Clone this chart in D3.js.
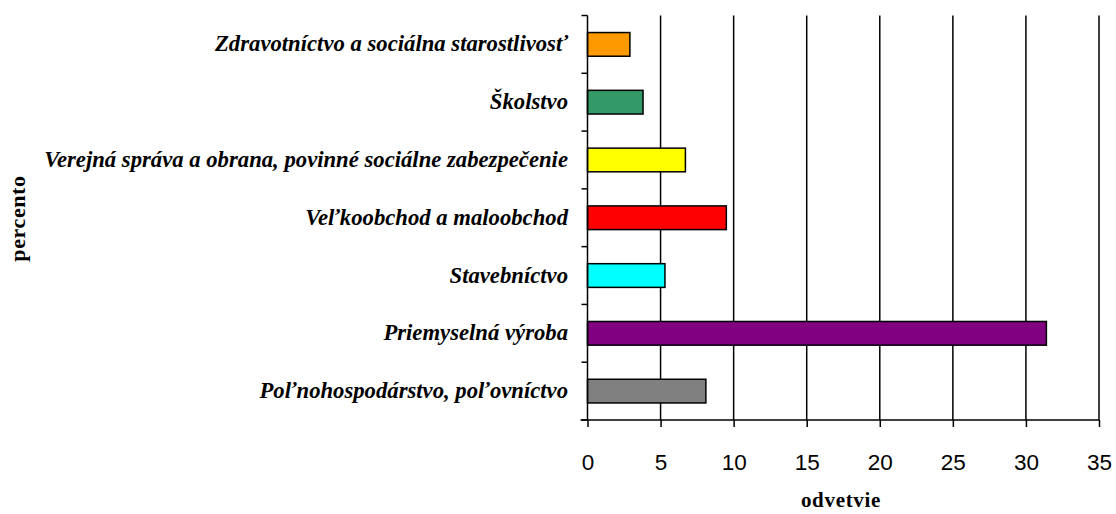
<!DOCTYPE html>
<html>
<head>
<meta charset="utf-8">
<script src="https://cdn.jsdelivr.net/npm/d3@7"></script>
<style>
  html, body { margin: 0; padding: 0; background: #fff; }
  svg { display: block; }
</style>
</head>
<body>
<div id="viz"></div>
<script>
// top to bottom, as drawn
const categories = [
  'Zdravotníctvo a sociálna starostlivosť',
  'Školstvo',
  'Verejná správa a obrana, povinné sociálne zabezpečenie',
  'Veľkoobchod a maloobchod',
  'Stavebníctvo',
  'Priemyselná výroba',
  'Poľnohospodárstvo, poľovníctvo',
];
const values = [2.9, 3.8, 6.7, 9.5, 5.3, 31.4, 8.1];
const colors = ['#ff9900', '#339966', '#ffff00', '#ff0000', '#00ffff', '#800080', '#808080'];
const xTicks = [0, 5, 10, 15, 20, 25, 30, 35];

const W = 1116, H = 514;
const M = { left: 587.5, right: 17, top: 15.5, bottom: 94 };

const svg = d3.select('#viz').append('svg')
  .attr('width', W)
  .attr('height', H);

const x = d3.scaleLinear().domain([0, 35]).range([M.left, W - M.right]);
const y = d3.scaleBand().domain(categories).range([M.top, H - M.bottom]).paddingInner(0.59).paddingOuter(0.295);
const yb = d3.scaleBand().domain(categories).range([M.top, H - M.bottom]);

// gridlines
svg.append('g')
  .selectAll('line')
  .data(xTicks.slice(1))
  .join('line')
  .attr('x1', (d) => x(d)).attr('x2', (d) => x(d))
  .attr('y1', M.top).attr('y2', H - M.bottom)
  .attr('stroke', '#000').attr('stroke-width', 1.5);

// bars
svg.append('g')
  .selectAll('rect')
  .data(values)
  .join('rect')
  .attr('x', x(0))
  .attr('y', (d, i) => y(categories[i]))
  .attr('width', (d) => x(d) - x(0))
  .attr('height', y.bandwidth())
  .attr('fill', (d, i) => colors[i])
  .attr('stroke', '#000')
  .attr('stroke-width', 1.5);

// bottom axis
const xAxis = d3.axisBottom(x).tickValues(xTicks).tickSize(7).tickPadding(27).tickSizeOuter(0);
const gx = svg.append('g')
  .attr('transform', `translate(0,${H - M.bottom})`)
  .call(xAxis);
gx.select('.domain').attr('d', `M${M.left - 7},0H${W - M.right}`).attr('stroke-width', 1.5);
gx.selectAll('.tick line').attr('stroke-width', 1.5);
gx.selectAll('.tick text')
  .attr('font-family', 'Liberation Sans, Arial, sans-serif')
  .attr('font-size', 22.5)
  .attr('fill', '#000');

// left axis: ticks at band boundaries
const bounds = categories.map((c) => yb(c)).concat([H - M.bottom]);
const gy = svg.append('g');
gy.append('line')
  .attr('x1', M.left).attr('x2', M.left)
  .attr('y1', M.top).attr('y2', H - M.bottom)
  .attr('stroke', '#000').attr('stroke-width', 1.5);
gy.selectAll('line.t')
  .data(bounds)
  .join('line')
  .attr('class', 't')
  .attr('x1', M.left - 6).attr('x2', M.left)
  .attr('y1', (d) => d).attr('y2', (d) => d)
  .attr('stroke', '#000').attr('stroke-width', 1.5);

// category labels
svg.append('g')
  .selectAll('text')
  .data(categories)
  .join('text')
  .attr('x', 568)
  .attr('y', (d) => yb(d) + yb.bandwidth() / 2 + 7)
  .attr('text-anchor', 'end')
  .attr('font-family', 'Liberation Serif, Times New Roman, serif')
  .attr('font-style', 'italic')
  .attr('font-weight', 'bold')
  .attr('font-size', 22.7)
  .attr('fill', '#000')
  .text((d) => d);

// axis titles
svg.append('text')
  .attr('x', 841)
  .attr('y', 507)
  .attr('text-anchor', 'middle')
  .attr('font-family', 'Liberation Serif, Times New Roman, serif')
  .attr('font-weight', 'bold')
  .attr('font-size', 21)
  .attr('letter-spacing', 0.7)
  .text('odvetvie');

svg.append('text')
  .attr('transform', 'translate(25,218.5) rotate(-90)')
  .attr('text-anchor', 'middle')
  .attr('font-family', 'Liberation Serif, Times New Roman, serif')
  .attr('font-weight', 'bold')
  .attr('font-size', 22)
  .attr('letter-spacing', 0.6)
  .text('percento');
</script>
</body>
</html>
